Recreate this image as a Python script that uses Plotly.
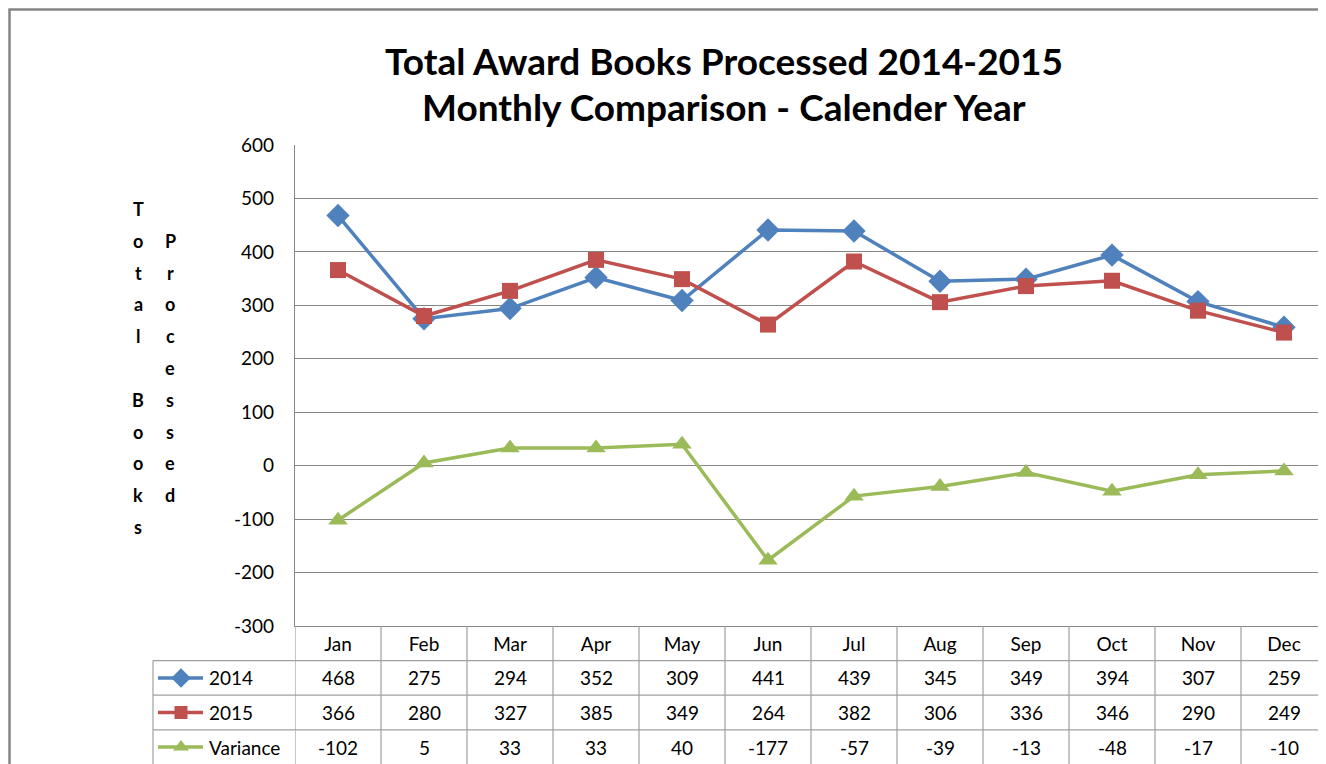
import plotly.graph_objects as go

months = ["Jan", "Feb", "Mar", "Apr", "May", "Jun", "Jul", "Aug", "Sep", "Oct", "Nov", "Dec"]
books_2014 = [468, 275, 294, 352, 309, 441, 439, 345, 349, 394, 307, 259]
books_2015 = [366, 280, 327, 385, 349, 264, 382, 306, 336, 346, 290, 249]
variance = [-102, 5, 33, 33, 40, -177, -57, -39, -13, -48, -17, -10]
series_names = ["2014", "2015", "Variance"]
y_ticks = [600, 500, 400, 300, 200, 100, 0, -100, -200, -300]
y_tick_text = [str(v) for v in y_ticks]
title_lines = ["Total Award Books Processed 2014-2015", "Monthly Comparison - Calender Year"]
ytitle_col1 = "Total Books"
ytitle_col2 = "Processed"

W, H = 1326, 764
OFF = 8  # page body margin offset
PLOT_L, PLOT_R, PLOT_T, PLOT_B = 295, 1327, 145, 626
ROW_H = 34.6
TABLE_L = 153
FONT = "Lato"
GRID = "#868686"
BORDER = "#A0A0A0"
colors = ["#4F81BD", "#C0504D", "#9BBB59"]
symbols = ["diamond", "square", "triangle-up"]
msizes = [18, 16, 17]
series = [books_2014, books_2015, variance]


def px(x):
    return (x - OFF) / W


def py(y):
    return 1 - (y - OFF) / H


fig = go.Figure()
for name, vals, c, s, ms in zip(series_names, series, colors, symbols, msizes):
    fig.add_trace(go.Scatter(
        x=months, y=vals, name=name, mode="lines+markers",
        line=dict(color=c, width=3.5),
        marker=dict(symbol=s, size=ms, color=c),
        xaxis="x", yaxis="y", cliponaxis=False, showlegend=False,
    ))

# legend keys inside the data table (page-pixel overlay axis)
row_centers = [PLOT_B + ROW_H * (i + 1.5) for i in range(3)]
for name, c, s, ms, yc in zip(series_names, colors, symbols, msizes, row_centers):
    fig.add_trace(go.Scatter(
        x=[TABLE_L + 5, TABLE_L + 50], y=[yc, yc], mode="lines",
        line=dict(color=c, width=3.5), xaxis="x2", yaxis="y2",
        showlegend=False, hoverinfo="skip",
    ))
    fig.add_trace(go.Scatter(
        x=[TABLE_L + 28], y=[yc], mode="markers",
        marker=dict(symbol=s, size=ms - 3, color=c), xaxis="x2", yaxis="y2",
        showlegend=False, hoverinfo="skip",
    ))

annotations = []
# title lines
for i, t in enumerate(title_lines):
    annotations.append(dict(
        text=t, x=px(724), y=py(60 + 46 * i), xref="paper", yref="paper",
        showarrow=False, xanchor="center", yanchor="middle",
        font=dict(family=FONT, size=37, color="#000000", weight="bold"),
    ))
# stacked y-axis title
STEP = 31.8
for i, ch in enumerate(ytitle_col1):
    if ch.strip():
        annotations.append(dict(text=ch, x=px(138), y=py(209 + STEP * i), xref="paper", yref="paper",
                                showarrow=False, xanchor="center", yanchor="middle",
                                font=dict(family=FONT, size=18, color="#000000", weight="bold")))
for i, ch in enumerate(ytitle_col2):
    annotations.append(dict(text=ch, x=px(170), y=py(209 + STEP * (i + 1)), xref="paper", yref="paper",
                            showarrow=False, xanchor="center", yanchor="middle",
                            font=dict(family=FONT, size=18, color="#000000", weight="bold")))
# table cells
for r, (name, vals) in enumerate(zip(series_names, series)):
    yc = row_centers[r]
    annotations.append(dict(text=name, x=px(TABLE_L + 54), y=py(yc), xref="paper", yref="paper",
                            showarrow=False, xanchor="left", yanchor="middle",
                            font=dict(family=FONT, size=19, color="#000000")))
    for m, v in zip(months, vals):
        annotations.append(dict(text=str(v), x=m, y=py(yc), xref="x", yref="paper",
                                showarrow=False, xanchor="center", yanchor="middle",
                                font=dict(family=FONT, size=19, color="#000000")))

shapes = []
# outer chart border
shapes.append(dict(type="rect", xref="paper", yref="paper", x0=px(9.5), y0=py(9.5), x1=px(W + 30), y1=py(H + 30),
                   line=dict(color=GRID, width=2.5), layer="below"))
# table vertical lines
for k in range(len(months) + 1):
    shapes.append(dict(type="line", xref="x", yref="paper", x0=k - 0.5, x1=k - 0.5,
                       y0=py(PLOT_B), y1=py(H + 20), line=dict(color=BORDER, width=1.2)))
# table left border
shapes.append(dict(type="line", xref="paper", yref="paper", x0=px(TABLE_L), x1=px(TABLE_L),
                   y0=py(PLOT_B + ROW_H), y1=py(H + 20), line=dict(color=BORDER, width=1.2)))
# table horizontal lines
for i in range(1, 4):
    yy = PLOT_B + ROW_H * i
    shapes.append(dict(type="line", xref="paper", yref="paper", x0=px(TABLE_L), x1=1.02,
                       y0=py(yy), y1=py(yy), line=dict(color=BORDER, width=1.2)))

fig.update_layout(
    width=W, height=H,
    margin=dict(l=0, r=0, t=0, b=0, autoexpand=False),
    paper_bgcolor="white", plot_bgcolor="rgba(0,0,0,0)",
    font=dict(family=FONT, size=19, color="#000000"),
    xaxis=dict(domain=[px(PLOT_L), px(PLOT_R)], type="category", categoryorder="array", categoryarray=months,
               showgrid=False, showline=True, linecolor=GRID, linewidth=1.2, ticks="",
               tickfont=dict(family=FONT, size=19, color="#000000"), ticklabelstandoff=1,
               range=[-0.5, len(months) - 0.5], fixedrange=True, automargin=False),
    yaxis=dict(domain=[py(PLOT_B), py(PLOT_T)], range=[-300, 600], tickvals=y_ticks, ticktext=y_tick_text,
               showgrid=True, gridcolor=GRID, gridwidth=1.2, zeroline=False,
               showline=True, linecolor=GRID, linewidth=1.2, ticks="",
               tickfont=dict(family=FONT, size=19, color="#000000"), ticklabelstandoff=16,
               fixedrange=True, automargin=False),
    xaxis2=dict(domain=[0, 1], range=[OFF, W + OFF], visible=False, anchor="y2", fixedrange=True, automargin=False),
    yaxis2=dict(domain=[0, 1], range=[H + OFF, OFF], visible=False, anchor="x2", fixedrange=True, automargin=False),
    annotations=annotations,
    shapes=shapes,
    showlegend=False,
)

fig.write_html("out.html")
